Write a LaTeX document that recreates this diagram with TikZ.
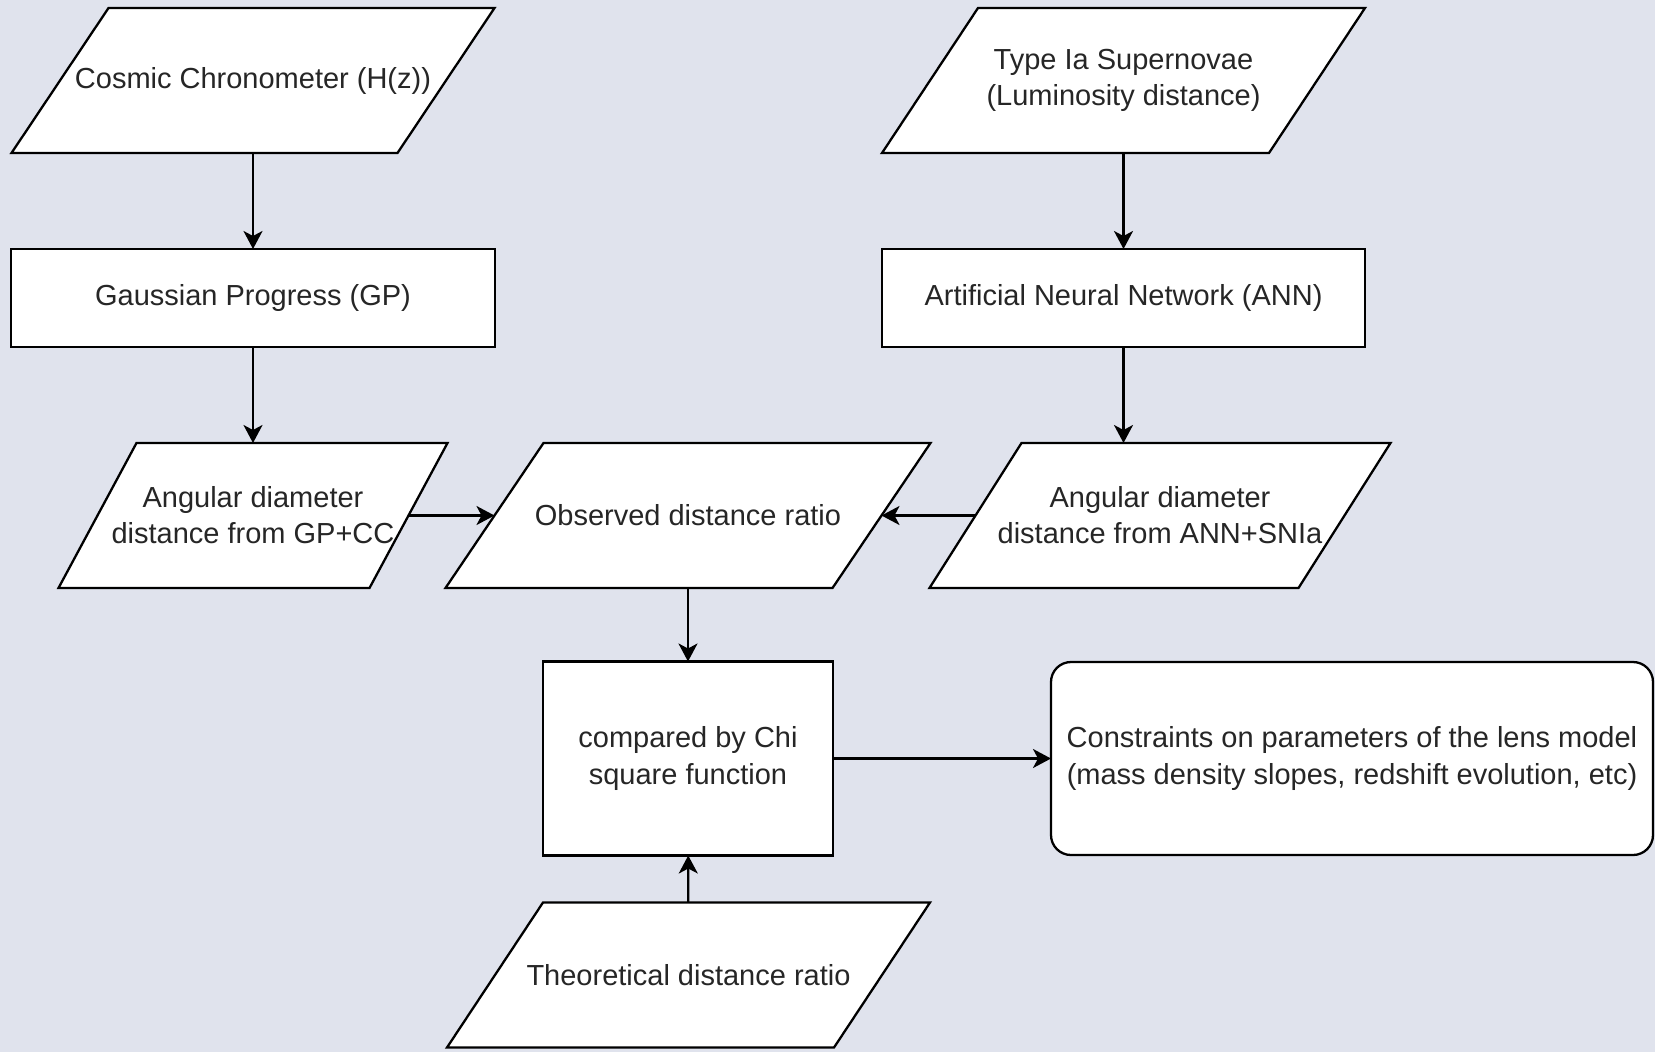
\documentclass[tikz,border=0pt]{standalone}
\usepackage{fontspec}
\setmainfont{Liberation Sans}
\usepackage{xcolor}
\usepackage{tikz}
\usetikzlibrary{positioning,calc,arrows.meta,backgrounds}

\definecolor{canvas}{RGB}{224,227,237}

\begin{document}
\begin{tikzpicture}[
    font=\fontsize{16.5}{20.5}\selectfont,
    line width=1.3pt,
    >={Stealth[length=0.36cm, width=0.38cm, inset=0.1cm]},
    box/.style={rectangle, draw, fill=white, text=black!85, align=center, minimum width=9.68cm, minimum height=1.96cm, outer sep=0pt},
    io/.style={rectangle, text=black!85, align=center, minimum width=7.74cm, minimum height=2.9cm, outer sep=0pt}
]
\useasboundingbox (0,0) rectangle (33.1,-21.04);

% Data sets
\node[io, minimum width=7.72cm] (cc) at (5.06,-1.61) {Cosmic Chronometer (H(z))};
\node[io] (sn) at (22.47,-1.61) {Type Ia Supernovae\\(Luminosity distance)};

% Reconstruction
\node[box] (gp) at (5.06,-5.96) {Gaussian Progress (GP)};
\node[box, minimum width=9.66cm] (ann) at (22.47,-5.96) {Artificial Neural Network (ANN)};

% Distances
\node[io, minimum width=6.22cm] (adgp) at (5.06,-10.31) {Angular diameter\\distance from GP+CC};
\node[io] (obs) at (13.76,-10.31) {Observed distance ratio};
\node[io, minimum width=7.38cm] (adann) at (23.2,-10.31) {Angular diameter\\distance from ANN+SNIa};

% Fit and result
\node[box, minimum width=5.8cm, minimum height=3.88cm] (chi) at (13.76,-15.17) {compared by Chi\\square function};
\node[box, rounded corners=0.4cm, minimum width=12.04cm, minimum height=3.86cm] (cons) at (27.04,-15.17) {Constraints on parameters of the lens model\\(mass density slopes, redshift evolution, etc)};
\node[io] (theo) at (13.77,-19.5) {Theoretical distance ratio};

% Slanted boxes behind the io nodes
\begin{scope}[on background layer]
  \fill[canvas] (0,0) rectangle (33.1,-21.04);
  \foreach \n/\s in {cc/1.94, sn/1.92, adgp/1.56, obs/1.96, adann/1.84, theo/1.92}
    \draw[line width=1.3pt, fill=white] ($(\n.south west)-(\s/2,0)$) -- ($(\n.north west)+(\s/2,0)$)
      -- ($(\n.north east)+(\s/2,0)$) -- ($(\n.south east)-(\s/2,0)$) -- cycle;
\end{scope}

% Arrows
\draw[->] (cc) -- (gp);
\draw[->] (sn) -- (ann);
\draw[->] (gp) -- (adgp);
\draw[->] (ann) -- (ann |- adann.north);
\draw[->] (adgp) -- (obs);
\draw[->] (adann) -- (obs);
\draw[->] (obs) -- (chi);
\draw[->] (theo) -- (chi);
\draw[->] (chi) -- (cons);

\end{tikzpicture}
\end{document}
